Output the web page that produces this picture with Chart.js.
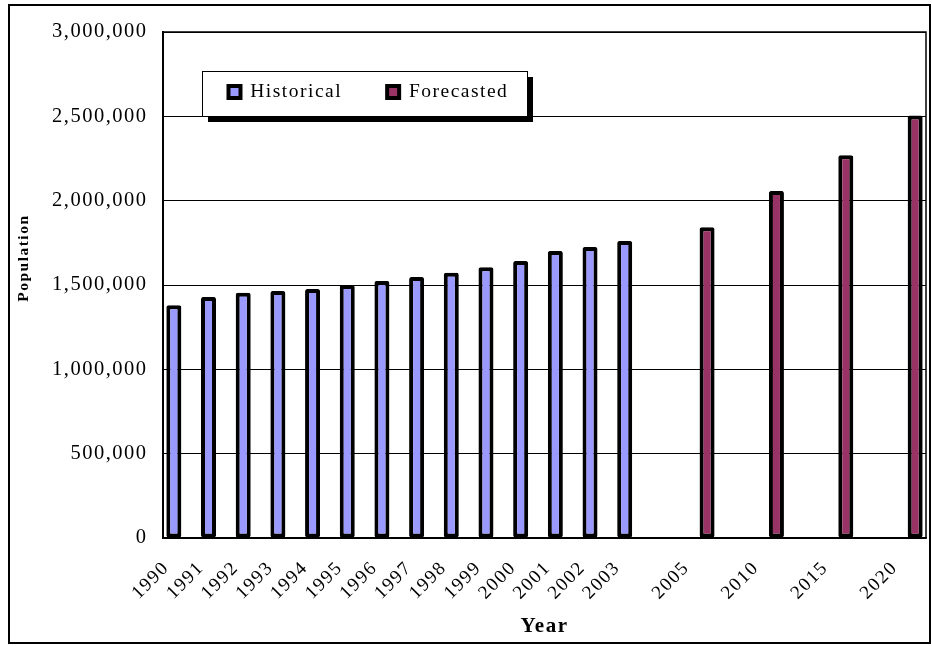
<!DOCTYPE html>
<html>
<head>
<meta charset="utf-8">
<title>Population</title>
<script src="https://cdn.jsdelivr.net/npm/chart.js@4/dist/chart.umd.min.js"></script>
<style>
  html, body { margin: 0; padding: 0; background: #ffffff; }
  canvas { display: block; }
</style>
</head>
<body>
<canvas id="chart" width="932" height="646"></canvas>
<script>
// Recorded population, one value per year
const historicalYears = ['1990', '1991', '1992', '1993', '1994', '1995', '1996',
                         '1997', '1998', '1999', '2000', '2001', '2002', '2003'];
const historicalValues = [1380000, 1429000, 1454000, 1464000, 1476000, 1500000, 1524000,
                          1547000, 1573000, 1605000, 1642000, 1702000, 1725000, 1761000];

// Projected population in five-year steps
const forecastYears = ['2005', '2010', '2015', '2020'];
const forecastValues = [1843000, 2058000, 2270000, 2505000];

// Value axis ticks
const yTickValues = [0, 500000, 1000000, 1500000, 2000000, 2500000, 3000000];

// Category axis: each forecast year is preceded by an empty slot
const categories = [...historicalYears];
forecastYears.forEach(y => { categories.push(''); categories.push(y); });

const historicalSeries = categories.map(c => {
  const i = historicalYears.indexOf(c);
  return i >= 0 ? historicalValues[i] : null;
});
const forecastSeries = categories.map(c => {
  const i = forecastYears.indexOf(c);
  return i >= 0 ? forecastValues[i] : null;
});

const SERIF = "'Liberation Serif', 'Times New Roman', serif";
const SPACING = '1.5px';

const decorations = {
  id: 'decorations',
  beforeUpdate(chart) {
    chart.ctx.letterSpacing = SPACING;
    // keep the in-plot legend on a single row
    if (chart.legend) chart.legend.isHorizontal = () => true;
  },
  afterLayout(chart) {
    const a = chart.chartArea;
    const lg = chart.legend;
    if (lg) {
      lg.left = a.left + 20.5;
      lg.top = a.top + 5.25;
      lg.right = a.right;
      lg.bottom = a.bottom;
      lg.width = lg.right - lg.left;
    }
  },
  beforeDraw(chart) {
    const ctx = chart.ctx;
    const a = chart.chartArea;
    ctx.letterSpacing = SPACING;
    ctx.save();
    ctx.fillStyle = '#ffffff';
    ctx.fillRect(0, 0, chart.width, chart.height);
    // legend panel with drop shadow
    const x = a.left + 39, y = a.top + 39, w = 325, h = 45;
    ctx.fillStyle = '#000000';
    ctx.fillRect(x + 6, y + 6, w, h);
    ctx.fillStyle = '#ffffff';
    ctx.fillRect(x, y, w, h);
    ctx.strokeStyle = '#000000';
    ctx.lineWidth = 1;
    ctx.strokeRect(x + 0.5, y + 0.5, w, h);
    ctx.restore();
  },
  afterDraw(chart) {
    const ctx = chart.ctx;
    const a = chart.chartArea;
    ctx.save();
    ctx.strokeStyle = '#000000';
    ctx.lineWidth = 1.5;
    ctx.strokeRect(a.left, a.top, a.right - a.left, a.bottom - a.top);
    ctx.lineWidth = 2;
    ctx.strokeRect(9, 5, 921, 638);
    ctx.restore();
  }
};

new Chart(document.getElementById('chart'), {
  type: 'bar',
  data: {
    labels: categories,
    datasets: [
      {
        label: 'Historical',
        data: historicalSeries,
        backgroundColor: '#9999ff',
        borderColor: '#000000',
        borderWidth: 4,
        borderSkipped: false,
        borderRadius: 2
      },
      {
        label: 'Forecasted',
        data: forecastSeries,
        backgroundColor: '#993366',
        borderColor: '#000000',
        borderWidth: 4,
        borderSkipped: false,
        borderRadius: 2
      }
    ]
  },
  options: {
    responsive: false,
    animation: false,
    devicePixelRatio: 1,
    categoryPercentage: 0.75,
    barPercentage: 1.154,
    layout: { padding: { left: 8, top: 32, right: 6, bottom: 7 } },
    plugins: {
      tooltip: { enabled: false },
      legend: {
        position: 'chartArea',
        align: 'start',
        labels: {
          color: '#000000',
          font: { family: SERIF, size: 19.5 },
          boxWidth: 12,
          boxHeight: 12,
          padding: 45
        }
      }
    },
    scales: {
      x: {
        grid: { display: false, drawTicks: false },
        border: { display: true, color: '#000000', width: 1.5 },
        ticks: {
          autoSkip: false,
          minRotation: 45,
          maxRotation: 45,
          padding: 19,
          labelOffset: -14,
          color: '#000000',
          font: { family: SERIF, size: 19 }
        },
        title: {
          display: true,
          text: 'Year',
          color: '#000000',
          font: { family: SERIF, size: 21, weight: 'bold' },
          padding: { top: 0, bottom: 0 }
        },
        afterFit(scale) {
          scale.height = 101;
          scale.paddingLeft = 0;
          scale.paddingRight = 0;
        }
      },
      y: {
        min: 0,
        max: 3000000,
        afterBuildTicks(scale) { scale.ticks = yTickValues.map(v => ({ value: v })); },
        grid: { color: '#000000', lineWidth: 1, drawTicks: false },
        border: { display: true, color: '#000000', width: 2 },
        ticks: {
          padding: 15.5,
          color: '#000000',
          font: { family: SERIF, size: 20.5 },
          callback: v => Number(v).toLocaleString('en-US')
        },
        title: {
          display: true,
          text: '          Population',
          color: '#000000',
          font: { family: SERIF, size: 15.5, weight: 'bold' },
          padding: { top: 6.5, bottom: 0 }
        },
        afterFit(scale) { scale.width = 155; }
      }
    }
  },
  plugins: [decorations]
});
</script>
</body>
</html>
